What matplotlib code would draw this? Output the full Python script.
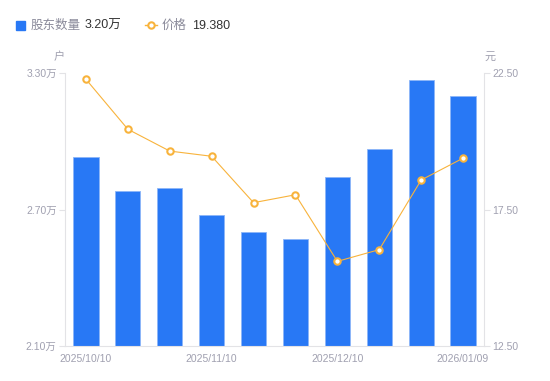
import matplotlib.pyplot as plt
import numpy as np
from matplotlib.lines import Line2D
from matplotlib.patches import Rectangle

plt.rcParams['font.family'] = ['Liberation Sans', 'Noto Sans CJK SC', 'DejaVu Sans']

# date labels (only every third one is shown in the chart)
dates = ['2025/10/10', '', '', '2025/11/10', '', '', '2025/12/10', '', '', '2026/01/09']
holders = [2.93, 2.78, 2.795, 2.675, 2.60, 2.57, 2.845, 2.965, 3.27, 3.20]   # 万户
price = [22.27, 20.44, 19.64, 19.45, 17.75, 18.04, 15.60, 16.03, 18.58, 19.38]  # 元
left_ticks = [2.10, 2.70, 3.30]
right_ticks = [12.50, 17.50, 22.50]

blue = '#2878F5'
orange = '#F8B33C'
gray = '#A0A0B0'
axis_col = '#E3E3E6'

fig = plt.figure(figsize=(5.5, 3.81), dpi=100)
ax = fig.add_axes([65 / 550, 35 / 381, 419 / 550, 273 / 381])
x = np.arange(len(holders))

ax.bar(x, np.array(holders) - left_ticks[0], bottom=left_ticks[0], width=0.6,
       color=blue, edgecolor='#8DB6F8', linewidth=0.6, zorder=2)
ax.set_xlim(-0.5, len(holders) - 0.5)
ax.set_ylim(left_ticks[0], left_ticks[-1])
ax.set_yticks(left_ticks)
ax.set_yticklabels(['%.2f万' % v for v in left_ticks])
show = [i for i, d in enumerate(dates) if d]
ax.set_xticks(show)
ax.set_xticklabels([dates[i] for i in show])

ax2 = ax.twinx()
ax2.plot(x, price, color=orange, linewidth=0.8, marker='o', markersize=4.6,
         markerfacecolor='white', markeredgecolor=orange, markeredgewidth=1.5, zorder=3)
ax2.set_ylim(right_ticks[0], right_ticks[-1])
ax2.set_yticks(right_ticks)
ax2.set_yticklabels(['%.2f' % v for v in right_ticks])

for a in (ax, ax2):
    for s in a.spines.values():
        s.set_visible(False)
    a.tick_params(axis='y', colors=axis_col, labelcolor=gray, labelsize=7.5, length=4, width=0.8, pad=2)
    a.tick_params(axis='x', length=0, labelcolor=gray, labelsize=7.5, pad=6)
ax.spines['left'].set_visible(True)
ax.spines['left'].set_color(axis_col)
ax.spines['bottom'].set_visible(True)
ax.spines['bottom'].set_color(axis_col)
ax2.spines['right'].set_visible(True)
ax2.spines['right'].set_color(axis_col)

# axis units
fig.text(59 / 550, 1 - 57 / 381, '户', ha='center', va='center', fontsize=8, color=gray,
         family=['Noto Sans CJK SC'])
fig.text(490 / 550, 1 - 57 / 381, '元', ha='center', va='center', fontsize=8, color=gray,
         family=['Noto Sans CJK SC'])

# legend
ly = 1 - 25 / 381
lb = 1 - 29 / 381
fig.add_artist(Rectangle((16 / 550, ly - 4.5 / 381), 9 / 550, 9 / 381, color=blue,
                         transform=fig.transFigure))
fig.text(31 / 550, lb, '股东数量', ha='left', va='baseline', fontsize=9, color='#8A8A9A',
         family=['Noto Sans CJK SC'])
fig.text(85 / 550, lb, '%.2f万' % holders[-1], ha='left', va='baseline', fontsize=9, color='#333333')
fig.add_artist(Line2D([145 / 550, 157 / 550], [ly, ly], color=orange, linewidth=1,
                      transform=fig.transFigure))
fig.add_artist(Line2D([151 / 550], [ly], marker='o', markersize=4.6, markerfacecolor='white',
                      markeredgecolor=orange, markeredgewidth=1.5, transform=fig.transFigure))
fig.text(162 / 550, lb, '价格', ha='left', va='baseline', fontsize=9, color='#8A8A9A',
         family=['Noto Sans CJK SC'])
fig.text(192 / 550, lb, '%.3f' % price[-1], ha='left', va='baseline', fontsize=9, color='#333333')

fig.savefig('out.png', dpi=100)
